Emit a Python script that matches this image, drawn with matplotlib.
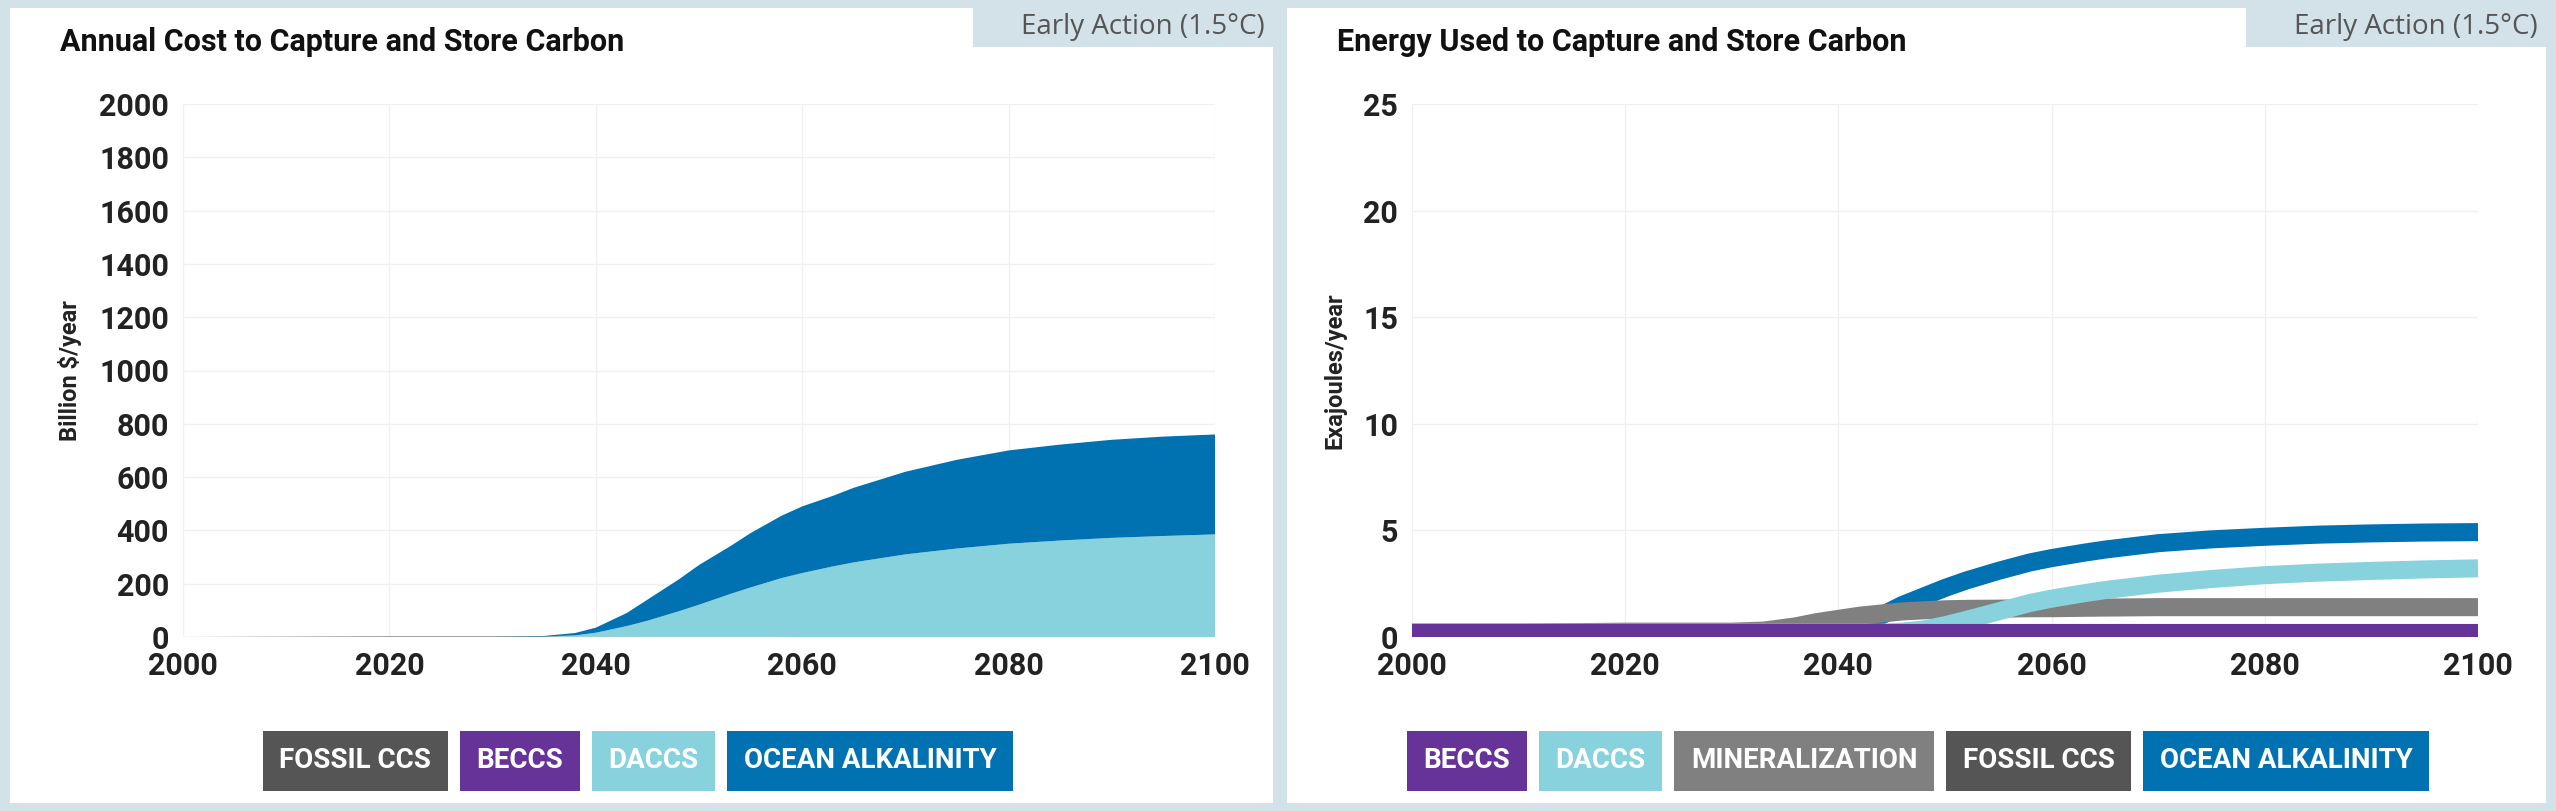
import matplotlib
matplotlib.use("Agg")
import matplotlib.pyplot as plt
from matplotlib.patches import Rectangle

plt.rcParams['font.family'] = ['Roboto', 'DejaVu Sans']

# Left: annual cost (billion $/year), stacked areas
years_cost = [2000, 2010, 2020, 2030, 2035, 2038, 2040, 2043, 2045, 2048, 2050, 2053, 2055, 2058,
              2060, 2063, 2065, 2070, 2075, 2080, 2085, 2090, 2095, 2100]
fossil_cost = [0, 1, 2, 2, 2, 1, 1, 1, 1, 1, 1, 1, 1, 1, 0, 0, 0, 0, 0, 0, 0, 0, 0, 0]
beccs_cost = [0] * len(years_cost)
daccs_cost = [0, 0, 0, 0, 0, 5, 15, 40, 60, 95, 120, 160, 185, 220,
              240, 265, 280, 310, 332, 350, 362, 372, 379, 385]
total_cost = [0, 1, 2, 2, 4, 15, 35, 90, 140, 215, 270, 340, 390, 455,
              490, 530, 560, 620, 665, 700, 722, 740, 752, 760]
ocean_cost = [t - d - f for t, d, f in zip(total_cost, daccs_cost, fossil_cost)]

# Right: energy used (EJ/year)
years_en = [2000, 2010, 2020, 2030, 2033, 2036, 2038, 2040, 2042, 2044, 2046, 2048, 2050, 2052,
            2055, 2058, 2060, 2063, 2065, 2070, 2075, 2080, 2085, 2090, 2095, 2100]
beccs_en = [0.2] * len(years_en)
daccs_en = [0.2, 0.2, 0.2, 0.2, 0.2, 0.2, 0.2, 0.2, 0.2, 0.2, 0.25, 0.35, 0.55, 0.8,
            1.2, 1.6, 1.8, 2.05, 2.2, 2.5, 2.72, 2.9, 3.02, 3.1, 3.17, 3.22]
mineral_en = [0.2, 0.2, 0.25, 0.25, 0.3, 0.5, 0.7, 0.85, 1.0, 1.1, 1.2, 1.25, 1.3, 1.32,
              1.33, 1.35, 1.35, 1.37, 1.38, 1.4, 1.4, 1.4, 1.4, 1.4, 1.4, 1.4]
fossil_en = [0.2] * len(years_en)
ocean_en = [0.2, 0.2, 0.2, 0.2, 0.2, 0.2, 0.2, 0.3, 0.6, 1.0, 1.5, 1.9, 2.3, 2.65,
            3.1, 3.5, 3.7, 3.95, 4.1, 4.4, 4.58, 4.7, 4.8, 4.86, 4.9, 4.92]

C_FOSSIL = '#555555'
C_BECCS = '#663399'
C_DACCS = '#87d2dc'
C_MINERAL = '#808080'
C_OCEAN = '#0072b2'
BG = '#d3e1e9'

fig = plt.figure(figsize=(25.56, 8.11), dpi=100, facecolor=BG)
W, H = 2556, 811

def px(x0, y0, x1, y1):
    return [x0 / W, 1 - y1 / H, (x1 - x0) / W, (y1 - y0) / H]

# white panels
for x0, x1 in [(10, 1273), (1287, 2546)]:
    fig.patches.append(Rectangle((x0 / W, 8 / H), (x1 - x0) / W, (H - 16) / H,
                                 transform=fig.transFigure, facecolor='white', edgecolor='none', zorder=0))

tick_font = dict(fontsize=22, fontweight='bold', color='#222222')

def style(ax, ylabel, yticks):
    ax.set_zorder(3)
    ax.set_facecolor('white')
    ax.set_xlim(2000, 2100)
    ax.set_xticks(range(2000, 2101, 20))
    ax.set_yticks(yticks)
    ax.grid(True, color='#f0f0f0', linewidth=1)
    for s in ax.spines.values():
        s.set_visible(False)
    ax.tick_params(length=0, pad=10)
    for lab in ax.get_xticklabels() + ax.get_yticklabels():
        lab.set(**tick_font)
    ax.set_ylabel(ylabel, fontsize=17, fontweight='bold', color='#222222', labelpad=12)
    ax.set_axisbelow(True)

ax1 = fig.add_axes(px(183, 104, 1215, 637))
ax1.stackplot(years_cost, fossil_cost, beccs_cost, daccs_cost, ocean_cost,
              colors=[C_FOSSIL, C_BECCS, C_DACCS, C_OCEAN], linewidth=0)
ax1.set_ylim(0, 2000)
style(ax1, 'Billion $/year', range(0, 2001, 200))

ax2 = fig.add_axes(px(1412, 104, 2478, 637))
lw = 13
ax2.plot(years_en, fossil_en, color=C_FOSSIL, lw=lw, solid_capstyle='butt')
ax2.plot(years_en, ocean_en, color=C_OCEAN, lw=lw, solid_capstyle='butt')
ax2.plot(years_en, mineral_en, color=C_MINERAL, lw=lw, solid_capstyle='butt')
ax2.plot(years_en, daccs_en, color=C_DACCS, lw=lw, solid_capstyle='butt')
ax2.plot(years_en, beccs_en, color=C_BECCS, lw=lw, solid_capstyle='butt')
ax2.set_ylim(0, 25)
style(ax2, 'Exajoules/year', range(0, 26, 5))

# titles and scenario tags
fig.text(60 / W, 1 - 42 / H, 'Annual Cost to Capture and Store Carbon', fontsize=22,
         fontweight='bold', va='center', color='#111111')
fig.text(1337 / W, 1 - 42 / H, 'Energy Used to Capture and Store Carbon', fontsize=22,
         fontweight='bold', va='center', color='#111111')
for xr in [1273, 2546]:
    fig.patches.append(Rectangle(((xr - 300) / W, 1 - 47 / H), 300 / W, 39 / H,
                                 transform=fig.transFigure, facecolor=BG, edgecolor='none', zorder=1))
    fig.text((xr - 8) / W, 1 - 27 / H, 'Early Action (1.5°C)', fontsize=20, family='Open Sans',
             color='#555555', ha='right', va='center', zorder=2)

# legends as coloured boxes
FS, PAD = 20, 0.6

def legend(center_px, items):
    fig.canvas.draw()
    r = fig.canvas.get_renderer()
    texts, widths = [], []
    for name, col in items:
        t = fig.text(0, 1 - 761 / H, name, fontsize=FS, fontweight='bold', color='white',
                     va='center', ha='left',
                     bbox=dict(boxstyle='square,pad=%s' % PAD, facecolor=col, edgecolor='none'))
        texts.append(t)
        widths.append(t.get_window_extent(r).width + 2 * PAD * FS * 100 / 72)
    gap = 12
    total = sum(widths) + gap * (len(widths) - 1)
    x = center_px - total / 2
    for t, w in zip(texts, widths):
        t.set_x((x + PAD * FS * 100 / 72) / W)
        x += w + gap

legend(638, [('FOSSIL CCS', C_FOSSIL), ('BECCS', C_BECCS), ('DACCS', C_DACCS),
             ('OCEAN ALKALINITY', C_OCEAN)])
legend(1918, [('BECCS', C_BECCS), ('DACCS', C_DACCS), ('MINERALIZATION', C_MINERAL),
              ('FOSSIL CCS', C_FOSSIL), ('OCEAN ALKALINITY', C_OCEAN)])

fig.savefig('out.png', dpi=100, facecolor=BG)
